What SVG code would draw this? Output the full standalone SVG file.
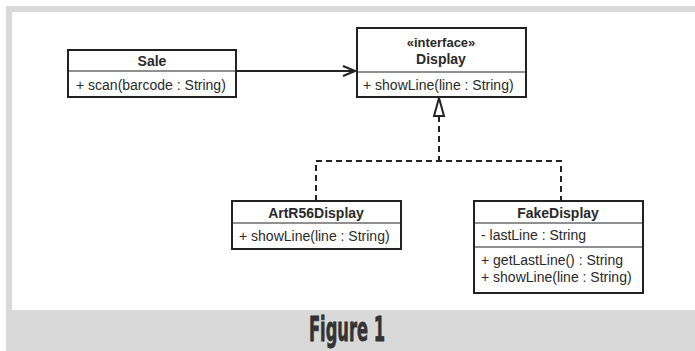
<svg xmlns="http://www.w3.org/2000/svg" width="695" height="351" viewBox="0 0 695 351">
<defs>
<style>
.box{fill:#fff;stroke:#222;stroke-width:2}
.div{stroke:#222;stroke-width:1.2}
.t{font-family:"Liberation Sans",Arial,sans-serif;font-size:14px;fill:#2a2a2a}
.b{font-weight:bold;text-anchor:middle}
.c{stroke:#222;stroke-width:2;fill:none}
.d{stroke:#222;stroke-width:2;fill:none;stroke-dasharray:6,4}
</style>
<marker id="open" markerWidth="14" markerHeight="12" refX="13" refY="6" orient="auto" markerUnits="userSpaceOnUse">
<path d="M1,1 L13,6 L1,11" fill="none" stroke="#222" stroke-width="2"/>
</marker>
</defs>
<rect x="0" y="0" width="695" height="351" fill="#fff"/>
<path d="M6,6 H695 V351 H6 Z M12,12 V310 H695 V12 Z" fill="#d9d9d9" fill-rule="evenodd"/>
<text x="347" y="341" text-anchor="middle" textLength="76" lengthAdjust="spacingAndGlyphs" font-family="'DejaVu Sans Condensed','Liberation Sans Narrow',sans-serif" font-weight="bold" font-size="34" fill="#333" stroke="#333" stroke-width="0.8">Figure 1</text>

<g id="connectors">
<line class="c" x1="236" y1="71" x2="355" y2="71" marker-end="url(#open)"/>
<polyline class="d" points="439,116 439,161"/>
<polyline class="d" points="316,201 316,161 561,161 561,201"/>
<polygon points="439,98 434,116 444,116" fill="#fff" stroke="#222" stroke-width="2"/>
</g>

<g id="Sale">
<rect class="box" x="68" y="50" width="168" height="47"/>
<line class="div" x1="68" y1="71" x2="236" y2="71"/>
<text class="t b" x="152" y="66">Sale</text>
<text class="t" x="76" y="90">+ scan(barcode : String)</text>
</g>

<g id="Display">
<rect class="box" x="357" y="28" width="169" height="69"/>
<line class="div" x1="357" y1="72" x2="526" y2="72"/>
<text class="t b" x="441" y="47" style="font-size:13px">«interface»</text>
<text class="t b" x="441" y="64">Display</text>
<text class="t" x="363" y="90">+ showLine(line : String)</text>
</g>

<g id="ArtR56Display">
<rect class="box" x="232" y="201" width="169" height="48"/>
<line class="div" x1="232" y1="223" x2="401" y2="223"/>
<text class="t b" x="316" y="218">ArtR56Display</text>
<text class="t" x="239" y="241">+ showLine(line : String)</text>
</g>

<g id="FakeDisplay">
<rect class="box" x="474" y="201" width="169" height="92"/>
<line class="div" x1="474" y1="223" x2="643" y2="223"/>
<line class="div" x1="474" y1="247" x2="643" y2="247"/>
<text class="t b" x="558" y="218">FakeDisplay</text>
<text class="t" x="481" y="240">- lastLine : String</text>
<text class="t" x="481" y="265">+ getLastLine() : String</text>
<text class="t" x="481" y="282">+ showLine(line : String)</text>
</g>
</svg>
